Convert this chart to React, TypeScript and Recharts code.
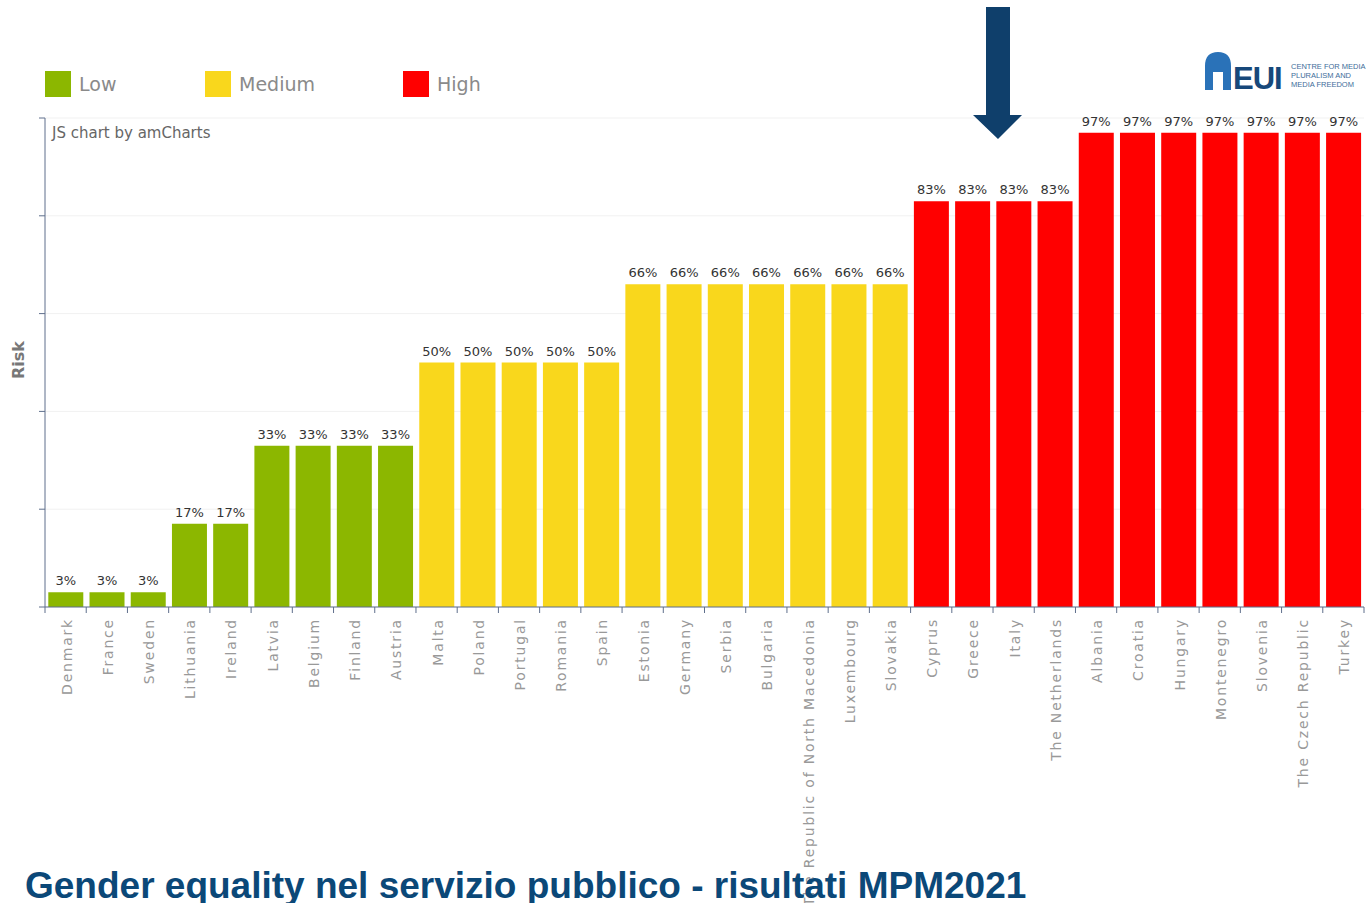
import React from 'react';
import { BarChart, Bar, XAxis, YAxis, CartesianGrid, Cell, LabelList } from 'recharts';

const countries = [
  'Denmark', 'France', 'Sweden', 'Lithuania', 'Ireland', 'Latvia', 'Belgium', 'Finland', 'Austria',
  'Malta', 'Poland', 'Portugal', 'Romania', 'Spain', 'Estonia', 'Germany', 'Serbia', 'Bulgaria',
  'The Republic of North Macedonia', 'Luxembourg', 'Slovakia', 'Cyprus', 'Greece', 'Italy',
  'The Netherlands', 'Albania', 'Croatia', 'Hungary', 'Montenegro', 'Slovenia', 'The Czech Republic', 'Turkey',
];
const riskValues = [
  3, 3, 3, 17, 17, 33, 33, 33, 33,
  50, 50, 50, 50, 50, 66, 66, 66, 66,
  66, 66, 66, 83, 83, 83,
  83, 97, 97, 97, 97, 97, 97, 97,
];
const riskLevels = [
  'Low', 'Low', 'Low', 'Low', 'Low', 'Low', 'Low', 'Low', 'Low',
  'Medium', 'Medium', 'Medium', 'Medium', 'Medium', 'Medium', 'Medium', 'Medium', 'Medium',
  'Medium', 'Medium', 'Medium', 'High', 'High', 'High',
  'High', 'High', 'High', 'High', 'High', 'High', 'High', 'High',
];
const yTicks = [0, 20, 40, 60, 80, 100];
const legendItems = ['Low', 'Medium', 'High'];

const levelColors: Record<string, string> = {
  Low: '#8cb700',
  Medium: '#f9d71c',
  High: '#ff0000',
};

const data = countries.map((country, i) => ({ country, risk: riskValues[i], level: riskLevels[i] }));

const W = 1366;
const H = 903;
const LEFT = 45;
const RIGHT = 2;
const axisColor = '#5f6f8c';
const bandWidth = (W - LEFT - RIGHT) / countries.length;

function CountryTick(props: any) {
  const { x, y, payload, index } = props;
  const isLast = index === countries.length - 1;
  return (
    <g>
      <line x1={x - bandWidth / 2} y1={y - 8} x2={x - bandWidth / 2} y2={y - 2} stroke={axisColor} />
      {isLast && <line x1={x + bandWidth / 2} y1={y - 8} x2={x + bandWidth / 2} y2={y - 2} stroke={axisColor} />}
      <text
        x={0}
        y={0}
        transform={`translate(${x + 6},${y + 3}) rotate(-90)`}
        textAnchor="end"
        fill="#999"
        fontSize={14}
        letterSpacing={1.8}
        fontFamily="DejaVu Sans, Verdana, sans-serif"
      >
        {payload.value}
      </text>
    </g>
  );
}

export default function App() {
  const legendX = [45, 205, 403];
  return (
    <div style={{ position: 'absolute', left: 0, top: 0, width: W, height: H, background: '#fff', overflow: 'hidden' }}>
      {/* legend */}
      {legendItems.map((item, i) => (
        <div key={item} style={{ position: 'absolute', left: legendX[i], top: 71, display: 'flex', alignItems: 'center' }}>
          <div style={{ width: 26, height: 26, background: levelColors[item] }} />
          <span style={{ marginLeft: 8, fontSize: 19, color: '#8a8a8a', fontFamily: 'DejaVu Sans, Verdana, sans-serif' }}>{item}</span>
        </div>
      ))}

      <div style={{ position: 'absolute', left: 0, top: 0 }}>
        <BarChart
          width={W}
          height={H}
          data={data}
          margin={{ top: 118, right: RIGHT, left: 0, bottom: 0 }}
          barCategoryGap="8%"
        >
          <CartesianGrid vertical={false} stroke="#f1f1f1" />
          <YAxis
            width={LEFT}
            domain={[0, 100]}
            ticks={yTicks}
            tickFormatter={() => ''}
            axisLine={{ stroke: axisColor }}
            tickLine={{ stroke: axisColor }}
            tickSize={6}
          />
          <XAxis
            dataKey="country"
            height={296}
            interval={0}
            tickLine={false}
            axisLine={{ stroke: axisColor }}
            tick={<CountryTick />}
          />
          <Bar dataKey="risk" isAnimationActive={false}>
            {data.map((d) => (
              <Cell key={d.country} fill={levelColors[d.level]} />
            ))}
            <LabelList
              dataKey="risk"
              position="top"
              offset={7}
              formatter={(v: any) => `${v}%`}
              fill="#333"
              fontSize={13}
              fontFamily="DejaVu Sans, Verdana, sans-serif"
            />
          </Bar>
        </BarChart>
      </div>

      <svg width={W} height={H} style={{ position: 'absolute', left: 0, top: 0, pointerEvents: 'none' }}>
        <text x={52} y={138} fontSize={15} fill="#666" fontFamily="DejaVu Sans, Verdana, sans-serif">JS chart by amCharts</text>
        <text
          transform="translate(24,360) rotate(-90)"
          textAnchor="middle"
          fontSize={16}
          fontWeight="bold"
          fill="#777"
          fontFamily="DejaVu Sans, Verdana, sans-serif"
        >
          Risk
        </text>

        {/* arrow */}
        <polygon points="986,7 1010,7 1010,115 1022,115 998,139 973,115 986,115" fill="#0f3f6b" />

        {/* logo */}
        <path d="M1205,90 L1205,66 Q1205,52 1218,52 Q1231,52 1231,66 L1231,90 L1223,90 L1223,72 L1213,72 L1213,90 Z" fill="#2a72b8" />
        <text x={1233} y={89} fontSize={31} fontWeight="bold" fill="#17487a" fontFamily="Liberation Sans, Arial, sans-serif" letterSpacing={-1}>EUI</text>
        <text x={1291} y={69} fontSize={7.5} fill="#3e6d9a" fontFamily="Liberation Sans, Arial, sans-serif">CENTRE FOR MEDIA</text>
        <text x={1291} y={78} fontSize={7.5} fill="#3e6d9a" fontFamily="Liberation Sans, Arial, sans-serif">PLURALISM AND</text>
        <text x={1291} y={87} fontSize={7.5} fill="#3e6d9a" fontFamily="Liberation Sans, Arial, sans-serif">MEDIA FREEDOM</text>

        {/* title */}
        <text x={25} y={898} fontSize={37} fontWeight="bold" fill="#0b4878" fontFamily="Liberation Sans, Arial, sans-serif">
          Gender equality nel servizio pubblico - risultati MPM2021
        </text>
      </svg>
    </div>
  );
}
